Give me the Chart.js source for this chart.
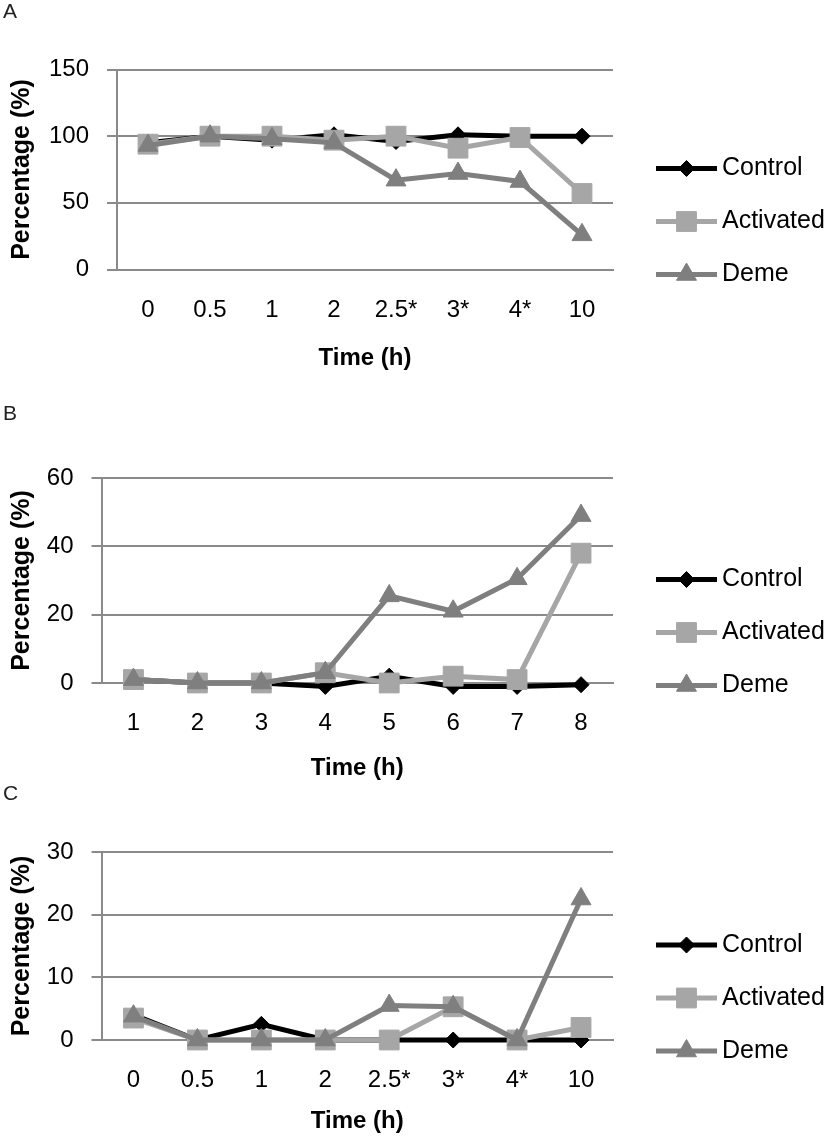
<!DOCTYPE html>
<html>
<head>
<meta charset="utf-8">
<script src="https://cdn.jsdelivr.net/npm/chart.js@4.4.0/dist/chart.umd.min.js"></script>
<style>
  html, body { margin: 0; padding: 0; background: #fff; }
  body { width: 833px; height: 1136px; position: relative; overflow: hidden; font-family: "Liberation Sans", Arial, sans-serif; }
  .panel { position: absolute; left: 0; width: 833px; }
  .letter { position: absolute; font-size: 21px; line-height: 21px; color: #222; z-index: 2; }
</style>
</head>
<body>
<div class="letter" style="left:3px;top:0px">A</div>
<div class="letter" style="left:3px;top:402px">B</div>
<div class="letter" style="left:3px;top:782px">C</div>
<div class="panel" style="top:0px;height:380px"><canvas id="chartA" width="833" height="380"></canvas></div>
<div class="panel" style="top:380px;height:410px"><canvas id="chartB" width="833" height="410"></canvas></div>
<div class="panel" style="top:790px;height:346px"><canvas id="chartC" width="833" height="346"></canvas></div>
<script>
// data
var seriesNames = ["Control", "Activated", "Deme"];

var timesA = ["0", "0.5", "1", "2", "2.5*", "3*", "4*", "10"];
var controlA = [95, 100, 97, 101, 96, 101, 100, 100];
var activatedA = [94, 100, 100, 97, 100, 91, 99, 57];
var demeA = [93, 100, 98, 95, 67, 72, 66, 26];
var ticksA = [0, 50, 100, 150];

var timesB = ["1", "2", "3", "4", "5", "6", "7", "8"];
var controlB = [1, 0, 0, -1, 2, -1, -1, -0.5];
var activatedB = [1, 0, 0, 3, 0, 2, 1, 38];
var demeB = [1, 0, 0, 3, 25.5, 21, 30.5, 49];
var ticksB = [0, 20, 40, 60];

var timesC = ["0", "0.5", "1", "2", "2.5*", "3*", "4*", "10"];
var controlC = [4, 0, 2.5, 0, 0, 0, 0, 0];
var activatedC = [3.5, 0, 0, 0, 0, 5.3, 0, 2];
var demeC = [3.8, 0, 0, 0, 5.5, 5.3, 0, 22.5];
var ticksC = [0, 10, 20, 30];

var colors = ["#000000", "#a6a6a6", "#7f7f7f"];
var markers = ["rectRot", "rect", "triangle"];
var markerSize = [8, 14, 11.5];
var gridColor = "#8a8a8a";
var font = '"Liberation Sans", Arial, sans-serif';

// legend on the right: line with the marker in the middle
var sideLegend = {
  id: "sideLegend",
  afterDraw: function(chart) {
    var ctx = chart.ctx, area = chart.chartArea;
    var midY = (area.top + area.bottom) / 2 + 52;
    ctx.save();
    chart.data.datasets.forEach(function(ds, i) {
      var y = midY + (i - 1) * 53;
      ctx.strokeStyle = ds.borderColor;
      ctx.lineWidth = ds.borderWidth;
      ctx.beginPath();
      ctx.moveTo(656, y);
      ctx.lineTo(717, y);
      ctx.stroke();
      ctx.fillStyle = ds.pointBackgroundColor;
      ctx.strokeStyle = ds.pointBorderColor;
      ctx.lineWidth = 1;
      Chart.helpers.drawPoint(ctx, {pointStyle: ds.pointStyle, radius: ds.pointRadius, borderWidth: 1, rotation: 0}, 686.5, y);
      ctx.fillStyle = "#000";
      ctx.font = "25px " + font;
      ctx.textAlign = "left";
      ctx.textBaseline = "middle";
      ctx.fillText(ds.label, 722, y);
    });
    ctx.restore();
  }
};

function makeChart(id, labels, series, ticks, g) {
  var datasets = series.map(function(vals, i) {
    return {
      label: seriesNames[i],
      data: vals,
      borderColor: colors[i],
      backgroundColor: colors[i],
      borderWidth: 5,
      pointStyle: markers[i],
      pointRadius: markerSize[i],
      pointBackgroundColor: colors[i],
      pointBorderColor: colors[i],
      pointBorderWidth: 1,
      order: 3 - i,
      clip: false,
      tension: 0
    };
  });
  return new Chart(document.getElementById(id), {
    type: "line",
    data: { labels: labels, datasets: datasets },
    plugins: [sideLegend],
    options: {
      responsive: false,
      animation: false,
      layout: { padding: { top: g.top, right: 220, bottom: 0, left: 0 } },
      plugins: { legend: { display: false }, tooltip: { enabled: false } },
      scales: {
        x: {
          offset: true,
          grid: { display: false, drawTicks: false },
          border: { color: gridColor, width: 2 },
          ticks: { color: "#000", font: { family: font, size: 24 }, padding: g.labelPad, maxRotation: 0, autoSkip: false },
          title: { display: true, text: "Time (h)", color: "#000", font: { family: font, size: 24, weight: "bold" }, padding: { top: 0, bottom: g.titlePad } },
          afterFit: function(s) { s.height = g.xH; }
        },
        y: {
          min: ticks[0],
          max: ticks[ticks.length - 1],
          ticks: { stepSize: ticks[1] - ticks[0], color: "#000", font: { family: font, size: 24 }, padding: 18 },
          grid: { color: gridColor, lineWidth: 2, tickLength: 10, drawTicks: true },
          border: { color: gridColor, width: 2 },
          title: { display: true, text: "Percentage (%)", color: "#000", font: { family: font, size: 25, weight: "bold" }, padding: { top: 7, bottom: 0 } },
          afterFit: function(s) { s.width = g.axisW; }
        }
      }
    }
  });
}

makeChart("chartA", timesA, [controlA, activatedA, demeA], ticksA, { top: 69.5, axisW: 117, xH: 110.5, labelPad: 26, titlePad: 7.6 });
makeChart("chartB", timesB, [controlB, activatedB, demeB], ticksB, { top: 98, axisW: 101.5, xH: 107, labelPad: 25.6, titlePad: 7.6 });
makeChart("chartC", timesC, [controlC, activatedC, demeC], ticksC, { top: 62, axisW: 101.5, xH: 96, labelPad: 25.6, titlePad: 0 });
</script>
</body>
</html>
